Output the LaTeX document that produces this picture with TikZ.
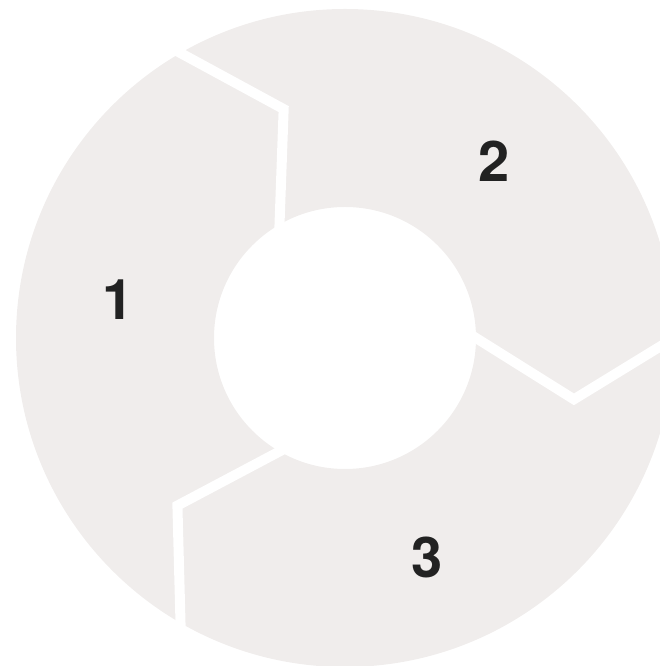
\documentclass[tikz,border=0pt]{standalone}
\usepackage{fontspec}
\setmainfont{TeX Gyre Heros}
\usetikzlibrary{calc}
\definecolor{ringgrey}{HTML}{F0EDEC}
\definecolor{digitcol}{HTML}{222222}
\begin{document}
\begin{tikzpicture}[x=1pt,y=1pt,
  gapline/.style={white, line width=10pt, line join=miter, miter limit=20},
  lbl/.style={font=\fontsize{56}{56}\selectfont\bfseries, text=digitcol, inner sep=0pt}]
\useasboundingbox (0,0) rectangle (660,666);
\clip (0,0) rectangle (660,666);
\coordinate (C) at (345,328);
\fill[ringgrey, even odd rule] (C) circle (329pt) (C) circle (131pt);
\foreach \t in {120,0,240} {
  \coordinate (i) at ($(C)+(\t:131pt)$);
  \coordinate (b) at ($(C)+(\t-15:237pt)$);
  \coordinate (o) at ($(C)+(\t:329pt)$);
  \draw[gapline] ($(i)!-0.3!(b)$) -- (b) -- ($(b)!1.3!(o)$);
}
\node[lbl] (n1) at (118,366) {1};
\node[lbl] (n2) at (494,504.5) {2};
\node[lbl] (n3) at (427,109) {3};
\end{tikzpicture}
\end{document}
